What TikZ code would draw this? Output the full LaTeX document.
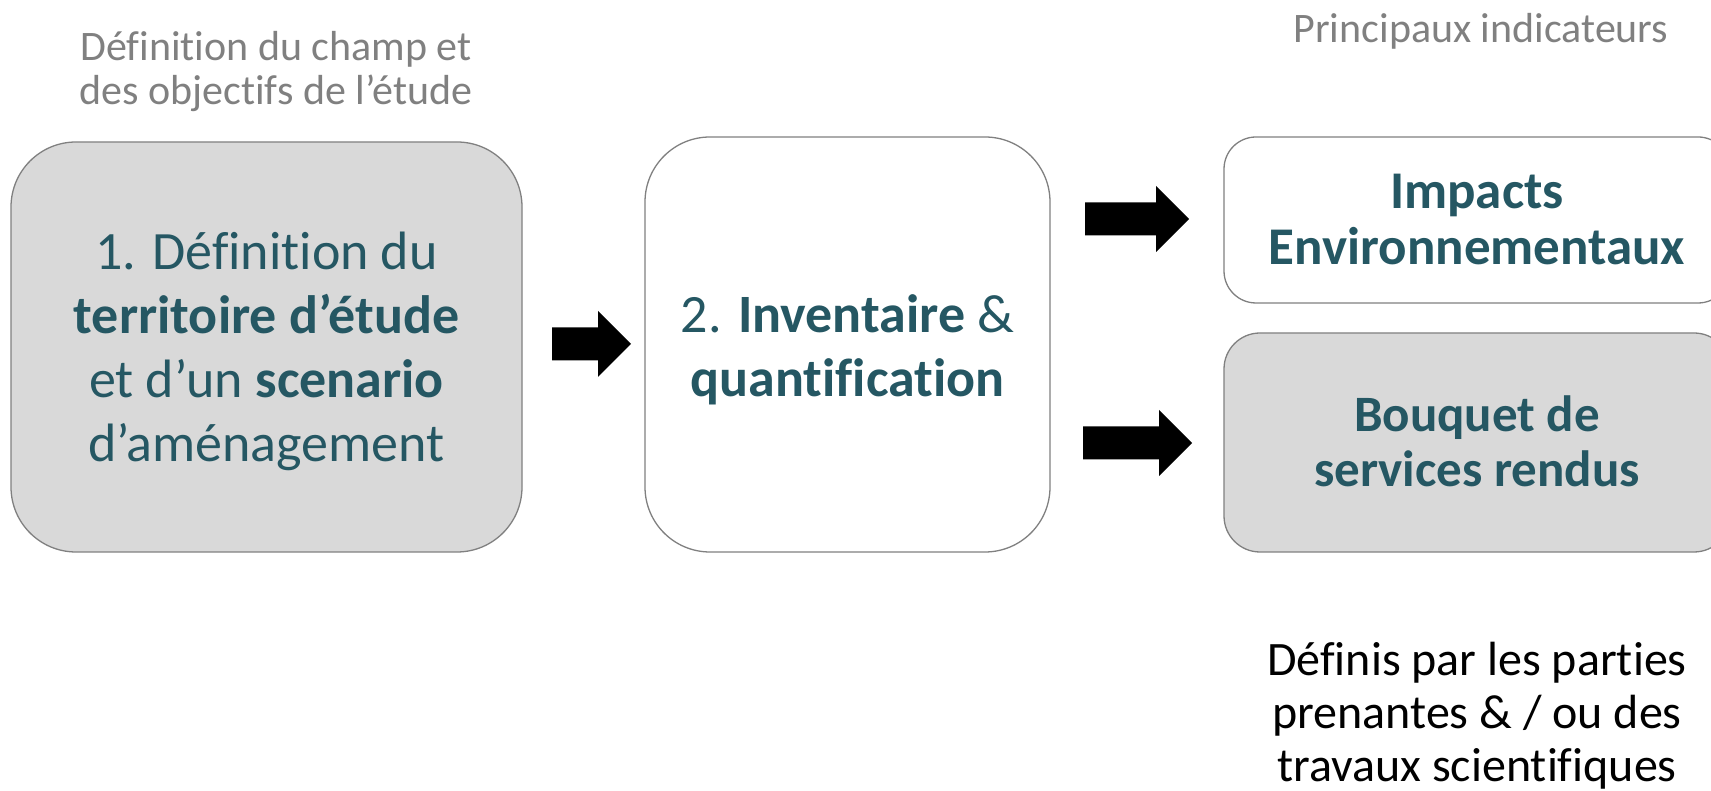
\documentclass[tikz,border=0pt]{standalone}
\usepackage{fontspec}
\setmainfont{Carlito}[Ligatures={NoCommon}]
\definecolor{inktext}{RGB}{37,87,99}
\definecolor{boxgray}{RGB}{217,217,217}
\definecolor{edgegray}{RGB}{128,128,128}
\definecolor{labelgray}{RGB}{128,128,128}
\tikzset{
  stepbox/.style={draw=edgegray, line width=1.3pt, inner sep=0pt},
  bigtext/.style={text=inktext, align=center, font=\fontsize{54}{64}\selectfont},
  envtext/.style={text=inktext, align=center, font=\bfseries\fontsize{53}{56}\selectfont},
  servtext/.style={text=inktext, align=center, font=\bfseries\fontsize{51}{55}\selectfont},
  headlabel/.style={text=labelgray, align=center, font=\fontsize{42}{44}\selectfont},
  notelabel/.style={text=black, align=center, font=\fontsize{48}{53}\selectfont},
  pics/fatarrow/.style={code={
    \pgfmathsetmacro\hl{#1/2}
    \fill[black] (-\hl,-16.5) -- (\hl-33,-16.5) -- (\hl-33,-33) -- (\hl,0)
      -- (\hl-33,33) -- (\hl-33,16.5) -- (-\hl,16.5) -- cycle;}}
}
\begin{document}
\begin{tikzpicture}[x=1pt,y=1pt]
\useasboundingbox (0,0) rectangle (1711,791);
\clip (0,0) rectangle (1711,791);

% column headings
\node[headlabel] (scope) at (276,719) {Définition du champ et\\des objectifs de l’étude};
\node[headlabel] (indic) at (1481,760) {Principaux indicateurs};

% step 1
\node[stepbox, fill=boxgray, rounded corners=65pt,
      minimum width=511pt, minimum height=410pt,
      label={[bigtext, yshift=-4pt]center:1. Définition du\\\textbf{territoire d’étude}\\et d’un \textbf{scenario}\\d’aménagement}]
  (def) at (266.5,444) {};

% step 2
\node[stepbox, fill=white, rounded corners=65pt,
      minimum width=405pt, minimum height=415pt,
      label={[bigtext, yshift=-5pt]center:2. \textbf{Inventaire} \&\\\textbf{quantification}}]
  (inv) at (847.5,446.5) {};

% outputs
\node[stepbox, fill=white, rounded corners=32pt,
      minimum width=506pt, minimum height=166pt,
      label={[envtext]center:Impacts\\Environnementaux}]
  (env) at (1477,571) {};
\node[stepbox, fill=boxgray, rounded corners=36pt,
      minimum width=506pt, minimum height=219pt,
      label={[servtext, yshift=1pt]center:Bouquet de\\services rendus}]
  (serv) at (1477,348.5) {};

% block arrows between the stages
\pic (a1) at (591.5,447) {fatarrow=79};
\pic (a2) at (1137,572) {fatarrow=104};
\pic (a3) at (1137.5,348) {fatarrow=109};

% note under the outputs
\node[notelabel] (note) at (1477,75) {Définis par les parties\\prenantes \& / ou des\\travaux scientifiques};
\end{tikzpicture}
\end{document}
